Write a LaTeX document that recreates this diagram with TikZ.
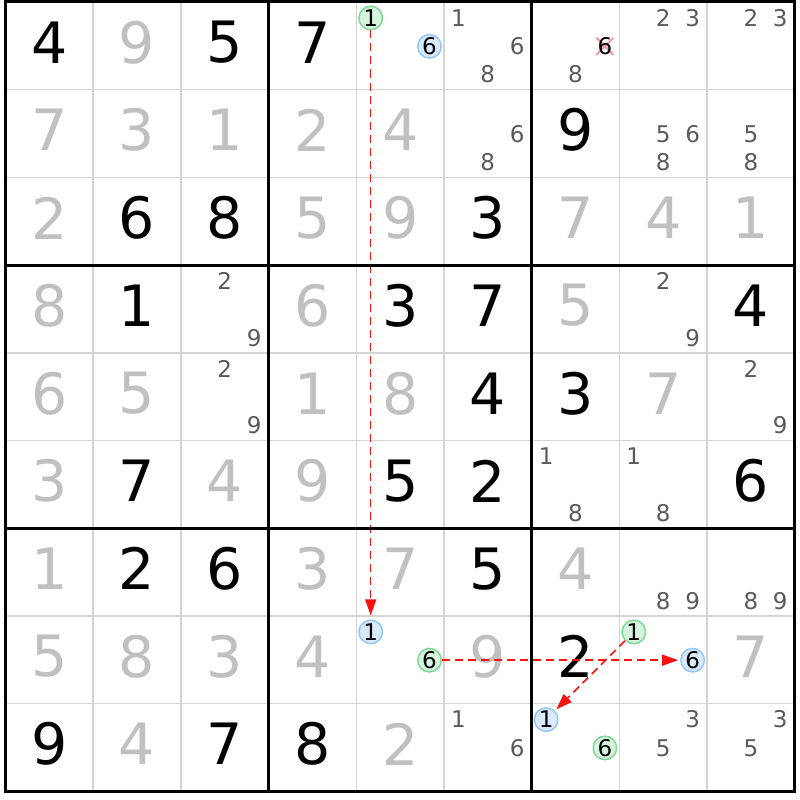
\documentclass[tikz,border=0pt]{standalone}
\usepackage{fontspec}
\setmainfont{DejaVu Sans}
\usetikzlibrary{arrows.meta,shapes.misc}
\definecolor{solved}{HTML}{C0C0C0}
\definecolor{candc}{HTML}{5A5A5A}
\definecolor{thinc}{HTML}{D4D4D4}
\definecolor{gfill}{HTML}{D6F5DC}
\definecolor{gline}{HTML}{7ED896}
\definecolor{bfill}{HTML}{D8EAFC}
\definecolor{bline}{HTML}{94C8F6}
\definecolor{xcol}{HTML}{F49AA4}
\definecolor{linkred}{HTML}{FF1010}
\begin{document}
\begin{tikzpicture}[x=1pt,y=-1pt,
  bigdigit/.style={font=\fontsize{57}{57}\selectfont, inner sep=0pt},
  givendigit/.style={bigdigit, text=black},
  solveddigit/.style={bigdigit, text=solved},
  canddigit/.style={font=\fontsize{23}{23}\selectfont, inner sep=0pt, text=candc},
  greenmark/.style={circle, draw=gline, fill=gfill, line width=1.5pt, minimum size=23.5pt, inner sep=0pt, font=\fontsize{23}{23}\selectfont, text=black},
  bluemark/.style={circle, draw=bline, fill=bfill, line width=1.5pt, minimum size=23.5pt, inner sep=0pt, font=\fontsize{23}{23}\selectfont, text=black},
  crossmark/.style={cross out, draw=xcol, line width=2pt, minimum size=15pt, inner sep=0pt},
  thingrid/.style={draw=thinc, line width=1.5pt},
  thickgrid/.style={draw=black, line width=3pt},
  link/.style={draw=linkred, line width=1.5pt, dash pattern=on 8pt off 5pt, -{Triangle[length=16pt,width=11pt]}, shorten >=2pt}
]
\useasboundingbox (0,0) rectangle (800,800);
\fill[white] (0,0) rectangle (800,800);
% thin grid lines
\foreach \i in {1,2,4,5,7,8} {
  \draw[thingrid] ({5.5+87.7*\i},2) -- ({5.5+87.7*\i},791.3);
  \draw[thingrid] (5.5,{2+87.7*\i}) -- (794.8,{2+87.7*\i});
}
% given digits (black)
\foreach \r/\c/\d in {0/0/4,0/2/5,0/3/7,1/6/9,2/1/6,2/2/8,2/5/3,3/1/1,3/4/3,3/5/7,3/8/4,4/5/4,4/6/3,5/1/7,5/4/5,5/5/2,5/8/6,6/1/2,6/2/6,6/5/5,7/6/2,8/0/9,8/2/7,8/3/8}
  \node[givendigit] (n\r\c) at ({5.5+87.7*\c+43.85},{2+87.7*\r+40.5}) {\d};
% solved digits (gray)
\foreach \r/\c/\d in {0/1/9,1/0/7,1/1/3,1/2/1,1/3/2,1/4/4,2/0/2,2/3/5,2/4/9,2/6/7,2/7/4,2/8/1,3/0/8,3/3/6,3/6/5,4/0/6,4/1/5,4/3/1,4/4/8,4/7/7,5/0/3,5/2/4,5/3/9,6/0/1,6/3/3,6/4/7,6/6/4,7/0/5,7/1/8,7/2/3,7/3/4,7/5/9,7/8/7,8/1/4,8/4/2}
  \node[solveddigit] (n\r\c) at ({5.5+87.7*\c+43.85},{2+87.7*\r+40.5}) {\d};
% cross behind candidate 6 of r0c6
\node[crossmark] (x066) at ({5.5+87.7*6+14.4+29.4*2},{2+16+28.3}) {};
% plain candidates
\foreach \r/\c/\d in {0/5/1,0/5/6,0/5/8,0/6/8,0/7/2,0/7/3,0/8/2,0/8/3,
  1/5/6,1/5/8,1/7/5,1/7/6,1/7/8,1/8/5,1/8/8,
  3/2/2,3/2/9,3/7/2,3/7/9,4/2/2,4/2/9,4/8/2,4/8/9,
  5/6/1,5/6/8,5/7/1,5/7/8,6/7/8,6/7/9,6/8/8,6/8/9,
  8/5/1,8/5/6,8/7/3,8/7/5,8/8/3,8/8/5}
  \node[canddigit] (k\r\c\d) at ({5.5+87.7*\c+14.4+29.4*mod(\d-1,3)},{2+87.7*\r+16+28.3*floor((\d-1)/3)}) {\d};
% eliminated candidate (black, over the cross)
\node[canddigit, text=black] (k066) at (x066) {6};
% marked candidates
\foreach \r/\c/\d/\m in {0/4/1/greenmark,0/4/6/bluemark,7/4/1/bluemark,7/4/6/greenmark,7/7/1/greenmark,7/7/6/bluemark,8/6/1/bluemark,8/6/6/greenmark}
  \node[\m] (k\r\c\d) at ({5.5+87.7*\c+14.4+29.4*mod(\d-1,3)},{2+87.7*\r+16+28.3*floor((\d-1)/3)}) {\d};
% links
\draw[link, shorten >=4pt] (k041) -- (k741);
\draw[link] (k746) -- (k776);
\draw[link] (k771) -- (k861);
% thick grid lines
\foreach \i in {0,3,6,9} {
  \draw[thickgrid] ({5.5+87.7*\i},0.5) -- ({5.5+87.7*\i},792.8);
  \draw[thickgrid] (4,{2+87.7*\i}) -- (796.3,{2+87.7*\i});
}
\end{tikzpicture}
\end{document}
